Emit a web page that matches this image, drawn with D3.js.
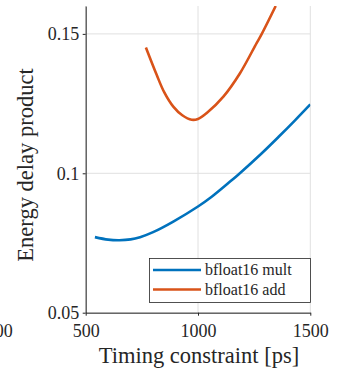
<!DOCTYPE html>
<html>
<head>
<meta charset="utf-8">
<script src="https://cdn.jsdelivr.net/npm/d3@7"></script>
<style>
  html, body { margin: 0; padding: 0; background: #fff; }
  svg { display: block; }
  svg text { font-family: "Times New Roman", "Liberation Serif", Tinos, "DejaVu Serif", "Noto Serif", Times, serif !important; fill: #262626; }
</style>
</head>
<body>
<div id="chart"></div>
<script>
// ---- data ----
const multTiming = [541, 600, 650, 700, 742, 800, 890, 1000, 1061, 1135, 1179, 1284, 1358, 1432, 1500];
const multEDP    = [0.0771, 0.0762, 0.0760, 0.0763, 0.0771, 0.0789, 0.0827, 0.0881, 0.0916, 0.0965, 0.0995, 0.1072, 0.1130, 0.1190, 0.1247];
const addTiming  = [768, 816, 850, 890, 930, 972, 1000, 1039, 1113, 1187, 1261, 1284, 1346];
const addEDP     = [0.1451, 0.1353, 0.1290, 0.1239, 0.1208, 0.1192, 0.1195, 0.1216, 0.1275, 0.1359, 0.1467, 0.1500, 0.1600];
const seriesNames = ["bfloat16 mult", "bfloat16 add"];
const xTicks = [500, 1000, 1500];
const yTicks = [0.05, 0.1, 0.15];
const yTickLabels = ["0.05", "0.1", "0.15"];
const xTitle = "Timing constraint [ps]";
const yTitle = "Energy delay product";

// ---- layout ----
const W = 344, H = 377;
const colors = ["#0072BD", "#D95319"];
const axisColor = "#262626";
const gridColor = "#e0e0e0";
const serif = '"Times New Roman", "Liberation Serif", Tinos, "DejaVu Serif", "Noto Serif", Times, serif';

const svg = d3.select("#chart").append("svg").attr("width", W).attr("height", H)
  .attr("font-family", serif);

const x = d3.scaleLinear().domain([500, 1500]).range([85.7, 310.3]);
const y = d3.scaleLinear().domain([0.05, 0.16]).range([312.7, 6]);

// grid
svg.append("g").selectAll("line").data(xTicks).join("line")
  .attr("x1", d => x(d)).attr("x2", d => x(d))
  .attr("y1", y.range()[0]).attr("y2", y.range()[1])
  .attr("stroke", gridColor).attr("stroke-width", 1);
svg.append("g").selectAll("line").data(yTicks).join("line")
  .attr("x1", x.range()[0]).attr("x2", x.range()[1])
  .attr("y1", d => y(d)).attr("y2", d => y(d))
  .attr("stroke", gridColor).attr("stroke-width", 1);

// clip
svg.append("clipPath").attr("id", "clip").append("rect")
  .attr("x", x.range()[0]).attr("y", y.range()[1])
  .attr("width", x.range()[1] - x.range()[0])
  .attr("height", y.range()[0] - y.range()[1]);

// lines
const line = d3.line().x(d => x(d[0])).y(d => y(d[1])).curve(d3.curveCatmullRom.alpha(0.5));
const series = [
  d3.zip(multTiming, multEDP),
  d3.zip(addTiming, addEDP)
];
svg.append("g").attr("clip-path", "url(#clip)").selectAll("path").data(series).join("path")
  .attr("d", line)
  .attr("fill", "none")
  .attr("stroke", (d, i) => colors[i])
  .attr("stroke-width", 2.6)
  .attr("stroke-linejoin", "round");

// axes
const xAxis = svg.append("g").attr("transform", `translate(0,${y.range()[0]})`)
  .call(d3.axisBottom(x).tickValues(xTicks).tickSize(3).tickSizeOuter(0).tickFormat(d3.format("d")));
xAxis.attr("font-family", serif).attr("font-size", 18);
xAxis.select(".domain").attr("stroke", axisColor);
xAxis.selectAll(".tick line").attr("stroke", axisColor);
xAxis.selectAll(".tick text").attr("y", 24.5).attr("dy", 0).attr("fill", axisColor);

const yAxis = svg.append("g").attr("transform", `translate(${x.range()[0]},0)`)
  .call(d3.axisLeft(y).tickValues(yTicks).tickSize(3).tickSizeOuter(0).tickFormat((d, i) => yTickLabels[i]));
yAxis.attr("font-family", serif).attr("font-size", 18);
yAxis.select(".domain").attr("stroke", axisColor);
yAxis.selectAll(".tick line").attr("stroke", axisColor);
yAxis.selectAll(".tick text").attr("x", -6.5).attr("dy", "0.33em").attr("fill", axisColor);

// stray neighbouring label (cut off at left edge)
svg.append("text").attr("x", 12.7).attr("y", 337.3).attr("text-anchor", "end")
  .attr("font-size", 18).text("1500");

// titles
svg.append("text").attr("x", 199).attr("y", 362.7).attr("text-anchor", "middle")
  .attr("font-size", 22.5).text(xTitle);
svg.append("text").attr("transform", "translate(33,165) rotate(-90)").attr("text-anchor", "middle")
  .attr("font-size", 22.5).text(yTitle);

// legend
const lg = svg.append("g");
lg.append("rect").attr("x", 149.5).attr("y", 258.5).attr("width", 161).attr("height", 44)
  .attr("fill", "#fff").attr("stroke", axisColor).attr("stroke-width", 0.8);
const rows = [270, 289.5];
seriesNames.forEach((name, i) => {
  lg.append("line").attr("x1", 153).attr("x2", 201).attr("y1", rows[i]).attr("y2", rows[i])
    .attr("stroke", colors[i]).attr("stroke-width", 2.6);
  lg.append("text").attr("x", 205).attr("y", rows[i] + 5).attr("font-size", 16).text(name);
});
</script>
</body>
</html>
